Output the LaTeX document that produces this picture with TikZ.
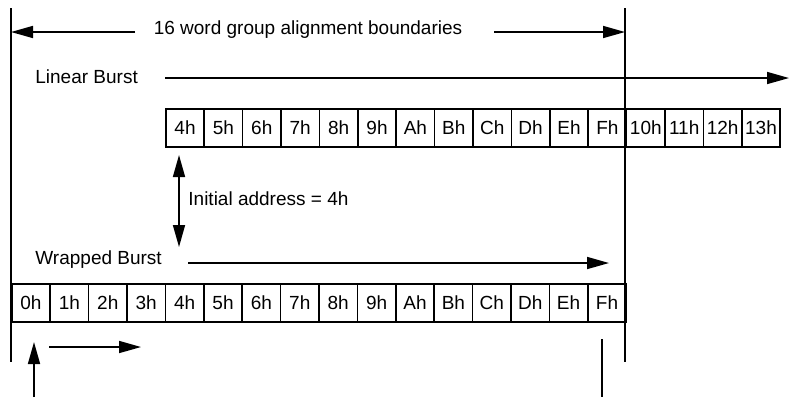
\documentclass[tikz,border=0pt]{standalone}
\usepackage{fontspec}
\setmainfont{Liberation Sans}
\usetikzlibrary{arrows.meta,positioning}

\tikzset{
  cell/.style={draw, line width=0.8pt, minimum width=19.2pt, minimum height=19pt,
    inner sep=0pt, anchor=west},
  burst/.style={line width=0.8pt, -{Triangle[length=11pt,width=6pt]}},
  twoway/.style={line width=0.8pt, {Triangle[length=11pt,width=6pt]}-{Triangle[length=11pt,width=6pt]}},
  bound/.style={line width=1pt},
  lbl/.style={inner sep=0pt, anchor=west},
}

\begin{document}
\begin{tikzpicture}[x=0.5pt,y=-0.5pt,font=\fontsize{9.5}{11}\selectfont]
    \useasboundingbox (0,0) rectangle (790,398);

    % alignment boundaries
    \coordinate (lt) at (11,8);
    \coordinate (lb) at (11,362);
    \coordinate (rt) at (625,8);
    \coordinate (rb) at (625,362);
    \draw[bound] (lt) -- (lb);
    \draw[bound] (rt) -- (rb);

    \node (hdr) at (308,30) {16 word group alignment boundaries};
    \coordinate (hl) at (135,32);
    \coordinate (hr) at (494,32);
    \draw[burst] (hl) -- (hl -| lt);
    \draw[burst] (hr) -- (hr -| rt);

    % linear burst
    \node[lbl] (linlbl) at (35,77) {Linear Burst};
    \coordinate (lins) at (165,78);
    \coordinate (line) at (789,78);
    \draw[burst] (lins) -- (line);
    \foreach \lab [count=\i from 0] in {4h,5h,6h,7h,8h,9h,Ah,Bh,Ch,Dh,Eh,Fh,10h,11h,12h,13h}
    \node[cell] (lin\i) at ({165+38.4*\i},128) {\lab};

    % initial address
    \coordinate (ia) at (179,155);
    \coordinate (ib) at (179,247);
    \draw[twoway] (ia) -- (ib);
    \node[lbl] (init) at (188,199) {Initial address = 4h};

    % wrapped burst
    \node[lbl] (wrplbl) at (35,260) {Wrapped Burst};
    \coordinate (wrps) at (188,263);
    \coordinate (wrpe) at (609,263);
    \draw[burst] (wrps) -- (wrpe);
    \foreach \lab [count=\i from 0] in {0h,1h,2h,3h,4h,5h,6h,7h,8h,9h,Ah,Bh,Ch,Dh,Eh,Fh}
    \node[cell] (wrp\i) at ({11+38.4*\i},303) {\lab};

    % start and end marks
    \coordinate (ua) at (34,397);
    \coordinate (ub) at (34,342);
    \draw[burst] (ua) -- (ub);
    \coordinate (ra) at (49,347);
    \coordinate (rb2) at (141,347);
    \draw[burst] (ra) -- (rb2);
    \coordinate (ea) at (602,339);
    \coordinate (eb) at (602,397);
    \draw[line width=0.8pt] (ea) -- (eb);
\end{tikzpicture}
\end{document}
